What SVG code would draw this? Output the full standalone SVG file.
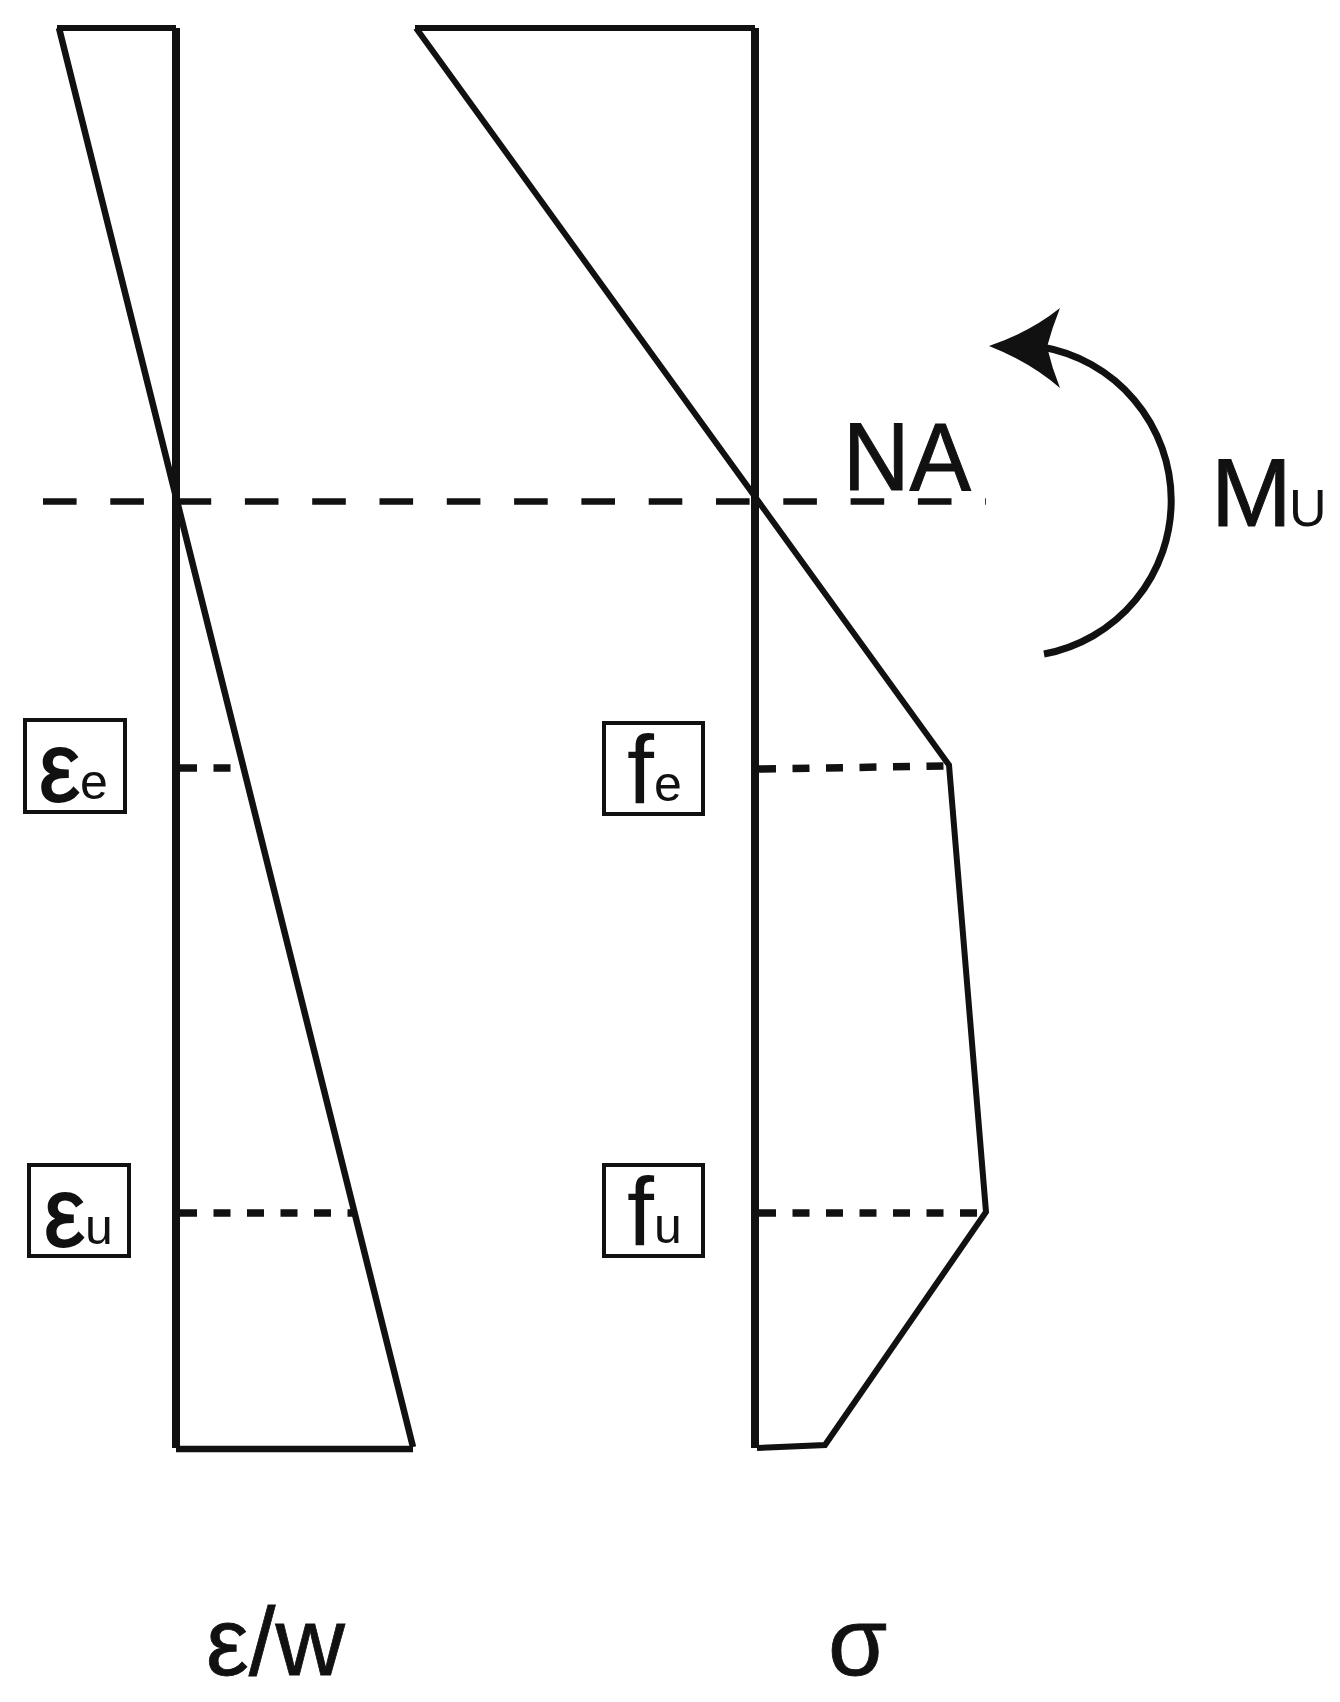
<svg xmlns="http://www.w3.org/2000/svg" width="1340" height="1702" viewBox="0 0 1340 1702">
<style>
.t{font-family:"Liberation Sans",Arial,sans-serif;fill:#111}
.h{stroke:#111;stroke-width:1}
.eps{font-size:98px;stroke:#111;stroke-width:2}
.l{fill:none;stroke:#111;stroke-linejoin:miter}
.box{fill:#fff;stroke:#111;stroke-width:4}
</style>
<rect width="1340" height="1702" fill="#fff"/>
<g id="connectors">
<path class="l" stroke-width="8" d="M176 28V1448M755 28V1448"/>
<path class="l" stroke-width="6" d="M57 28H176M415 28H755"/>
<path class="l" stroke-width="6.5" d="M176 1449H413M59 28L413 1447"/>
<path class="l" stroke-width="6" d="M416 28L949 765L986 1212L825 1445L757 1448"/>
<path class="l" stroke-width="6.5" stroke-dasharray="33.6 33.7" d="M43 501.5H986"/>
<path class="l" stroke-width="7.5" stroke-dasharray="17 16.5" d="M180 768H232M180 1213H357"/>
<path class="l" stroke-width="7.5" stroke-dasharray="17 16.5" d="M759 769L945 766M759 1213H984"/>
<path class="l" stroke-width="7" d="M1044 654A156 156 0 0 0 1042 347"/>
<path fill="#111" d="M989 346Q1030 332 1060 308Q1052 328 1047 347Q1052 368 1060 388Q1030 362 989 346Z"/>
</g>
<g id="label-eps-e"><rect class="box" x="25" y="720" width="100" height="92"/><text class="t eps" x="39" y="801" textLength="41" lengthAdjust="spacingAndGlyphs">ε</text><text class="t" font-size="50" x="80" y="799">e</text></g>
<g id="label-eps-u"><rect class="box" x="29" y="1165" width="100" height="91"/><text class="t eps" x="44" y="1246" textLength="41" lengthAdjust="spacingAndGlyphs">ε</text><text class="t" font-size="50" x="85" y="1244">u</text></g>
<g id="label-f-e"><rect class="box" x="604" y="723" width="99" height="91"/><text class="t" font-size="97" x="627" y="803">f</text><text class="t" font-size="50" x="654" y="801">e</text></g>
<g id="label-f-u"><rect class="box" x="604" y="1165" width="99" height="91"/><text class="t" font-size="97" x="627" y="1245">f</text><text class="t" font-size="50" x="654" y="1243">u</text></g>
<g id="label-na"><text class="t h" font-size="97" x="843" y="490" textLength="128" lengthAdjust="spacingAndGlyphs">NA</text></g>
<g id="label-mu"><text class="t h" font-size="97" x="1211" y="526">M</text><text class="t" font-size="52" x="1289" y="526">U</text></g>
<g id="label-eps-w"><text class="t" stroke="#111" stroke-width="0.8" font-size="96" x="206" y="1675" textLength="139" lengthAdjust="spacingAndGlyphs">ε/w</text></g>
<g id="label-sigma"><text class="t" stroke="#111" stroke-width="0.8" font-size="96" x="828" y="1675">σ</text></g>
</svg>
